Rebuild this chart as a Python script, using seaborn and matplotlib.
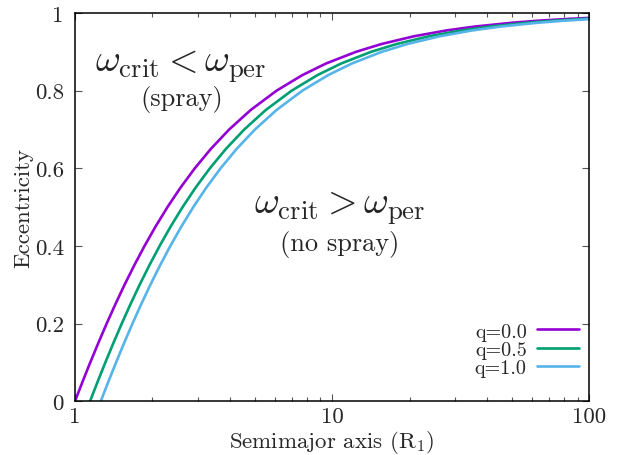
import matplotlib
matplotlib.use("Agg")
import matplotlib.pyplot as plt
import matplotlib.ticker as mticker
import seaborn as sns
import pandas as pd

# values (semimajor axis, eccentricity)
a_q00 = [1.0, 1.0699, 1.1470, 1.2326, 1.3283, 1.4363, 1.5591, 1.7003, 1.8645, 2.0579,
         2.2894, 2.5718, 2.9240, 3.3762, 3.9783, 4.8203, 6.0822, 7.6588, 9.4770, 12.386,
         15.536, 20.787, 27.787, 35.787, 50.186, 62.786, 83.785, 100.0]
e_q00 = [0.0, 0.05, 0.10, 0.15, 0.20, 0.25, 0.30, 0.35, 0.40, 0.45, 0.50, 0.55, 0.60, 0.65,
         0.70, 0.75, 0.80, 0.84, 0.87, 0.90, 0.92, 0.94, 0.955, 0.965, 0.975, 0.98, 0.985,
         0.9874]

a_q05 = [1.1447, 1.2247, 1.3130, 1.4110, 1.5205, 1.6441, 1.7847, 1.9464, 2.1343, 2.3557,
         2.6207, 2.9440, 3.3471, 3.8648, 4.5540, 5.5178, 6.9624, 8.7671, 10.848, 14.178,
         17.784, 23.795, 31.808, 40.966, 57.448, 71.872, 95.909, 100.0]
e_q05 = [0.0, 0.05, 0.10, 0.15, 0.20, 0.25, 0.30, 0.35, 0.40, 0.45, 0.50, 0.55, 0.60, 0.65,
         0.70, 0.75, 0.80, 0.84, 0.87, 0.90, 0.92, 0.94, 0.955, 0.965, 0.975, 0.98, 0.985,
         0.9856]

a_q10 = [1.2599, 1.3480, 1.4451, 1.5530, 1.6735, 1.8096, 1.9643, 2.1422, 2.3491, 2.5928,
         2.8845, 3.2403, 3.6840, 4.2537, 5.0123, 6.0732, 7.6631, 9.6495, 11.940, 15.605,
         19.574, 26.190, 35.009, 45.089, 63.230, 79.105, 100.0]
e_q10 = [0.0, 0.05, 0.10, 0.15, 0.20, 0.25, 0.30, 0.35, 0.40, 0.45, 0.50, 0.55, 0.60, 0.65,
         0.70, 0.75, 0.80, 0.84, 0.87, 0.90, 0.92, 0.94, 0.955, 0.965, 0.975, 0.98, 0.9842]

labels = ["q=0.0", "q=0.5", "q=1.0"]
colors = ["#9400d3", "#009e73", "#56b4e9"]

sns.set_theme(style="ticks")
plt.rcParams["font.family"] = ["cmr10", "DejaVu Serif"]
plt.rcParams["mathtext.fontset"] = "cm"
plt.rcParams["axes.formatter.use_mathtext"] = True

df = pd.concat([
    pd.DataFrame({"a": a_q00, "e": e_q00, "q": labels[0]}),
    pd.DataFrame({"a": a_q05, "e": e_q05, "q": labels[1]}),
    pd.DataFrame({"a": a_q10, "e": e_q10, "q": labels[2]}),
])

fig = plt.figure(figsize=(6.3, 4.56), dpi=100)
ax = fig.add_axes([0.119, 0.118, 0.8164, 0.8513])

sns.lineplot(data=df, x="a", y="e", hue="q", palette=colors, estimator=None,
             sort=False, linewidth=1.9, ax=ax, legend=True)

ax.set_xscale("log")
ax.set_xlim(1, 100)
ax.set_ylim(0, 1)
ax.set_xticks([1, 10, 100])
ax.xaxis.set_major_formatter(mticker.FixedFormatter(["1", "10", "100"]))
ax.xaxis.set_minor_formatter(mticker.NullFormatter())
ax.set_yticks([0, 0.2, 0.4, 0.6, 0.8, 1])
ax.set_yticklabels(["0", "0.2", "0.4", "0.6", "0.8", "1"])

for s in ax.spines.values():
    s.set_visible(True)
    s.set_color("black")
    s.set_linewidth(1.1)
ax.tick_params(which="both", direction="in", top=True, right=True, color="#555555",
               labelsize=16.5)
ax.tick_params(axis="y", pad=8)
ax.tick_params(axis="x", pad=4)
ax.tick_params(which="major", length=5, width=0.8)
ax.tick_params(which="minor", length=3, width=0.8)

ax.set_xlabel("Semimajor axis (R$_1$)", fontsize=16.5, labelpad=1)
ax.set_ylabel("Eccentricity", fontsize=16.5, labelpad=1)

ax.text(2.58, 0.851, r"$\omega_{\rm crit} < \omega_{\rm per}$", fontsize=27.5,
        ha="center", va="baseline")
ax.text(2.61, 0.763, "(spray)", fontsize=19, ha="center", va="baseline")
ax.text(10.7, 0.487, r"$\omega_{\rm crit} > \omega_{\rm per}$", fontsize=27.5,
        ha="center", va="baseline")
ax.text(10.7, 0.39, "(no spray)", fontsize=19, ha="center", va="baseline")

handles, labs = ax.get_legend_handles_labels()
ax.legend(handles, labs, loc="lower right", bbox_to_anchor=(0.98, 0.063),
          frameon=False, markerfirst=False, handlelength=2.1, handletextpad=0.5,
          labelspacing=0.0, fontsize=14.5, borderaxespad=0.0, borderpad=0.0)

fig.savefig("out.png", dpi=100)
